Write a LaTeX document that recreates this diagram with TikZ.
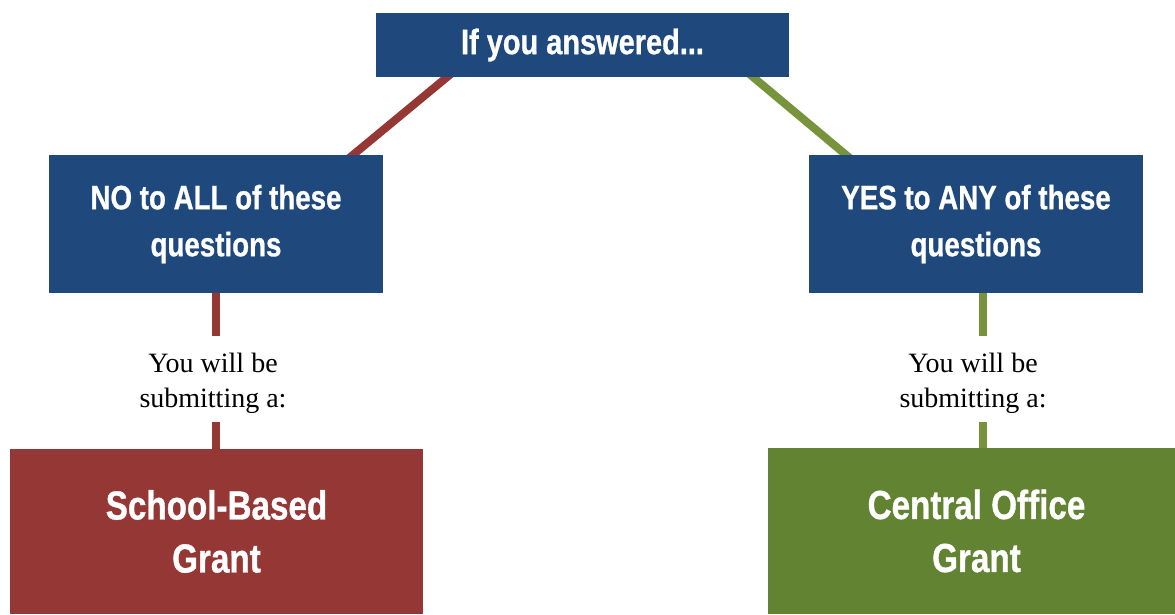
\documentclass[tikz,border=0pt]{standalone}
\usepackage{fontspec}
\setmainfont{Liberation Serif}
\newfontfamily\boxfont{Liberation Sans}[FakeStretch=0.82,FakeBold=0.8]
\usetikzlibrary{backgrounds,calc}
\definecolor{hdrblue}{HTML}{1F497D}
\definecolor{nored}{HTML}{953735}
\definecolor{yesgreen}{HTML}{77933C}
\definecolor{boxgreen}{HTML}{628332}
\begin{document}
\begin{tikzpicture}[x=1pt,y=-1pt,
  box/.style={rectangle, inner sep=0pt, text=white, align=center, font=\boxfont\bfseries},
  midbox/.style={box, fill=hdrblue, minimum width=334pt, minimum height=138pt,
    font=\boxfont\bfseries\fontsize{33.8}{47}\selectfont},
  endbox/.style={box, minimum width=413pt, minimum height=165pt,
    font=\boxfont\bfseries\fontsize{40.5}{53}\selectfont},
  note/.style={inner sep=0pt, align=center, font=\fontsize{28}{35}\selectfont},
  conn/.style={line width=8pt}
]
\useasboundingbox (0,0) rectangle (1175,614);
\node[box, fill=hdrblue, minimum width=413pt, minimum height=64pt,
  font=\boxfont\bfseries\fontsize{35.3}{40}\selectfont] (top) at (582.5,45) {If you answered...};
\node[midbox] (noall) at (216,224) {NO to ALL of these\\questions};
\node[midbox] (yesany) at (976,224) {YES to ANY of these\\questions};
\node[note] (notel) at (213,383) {You will be\\submitting a:};
\node[note] (noter) at (973,383) {You will be\\submitting a:};
\node[endbox, fill=nored] (school) at (216.5,531.5) {School-Based\\Grant};
\node[endbox, fill=boxgreen, minimum width=417pt, minimum height=166pt] (central) at (976.5,531) {Central Office\\Grant};
\begin{scope}[on background layer]
  \draw[conn, nored, shorten <=-6pt, shorten >=-6pt]
    ($(top.south west)!0.172!(top.south east)$) -- ($(noall.north west)!0.91!(noall.north east)$);
  \draw[conn, yesgreen, shorten <=-6pt, shorten >=-6pt]
    ($(top.south west)!0.913!(top.south east)$) -- ($(yesany.north west)!0.111!(yesany.north east)$);
\end{scope}
\draw[conn, nored, shorten >=17pt] (noall.south) -- (noall.south |- notel.north);
\draw[conn, nored, shorten <=9pt] (noall.south |- notel.south) -- (noall.south |- school.north);
\draw[conn, yesgreen, shorten >=17pt] ([xshift=7pt]yesany.south) -- ([xshift=7pt]yesany.south |- noter.north);
\draw[conn, yesgreen, shorten <=9pt] ([xshift=7pt]yesany.south |- noter.south) -- ([xshift=7pt]yesany.south |- central.north);
\end{tikzpicture}
\end{document}
